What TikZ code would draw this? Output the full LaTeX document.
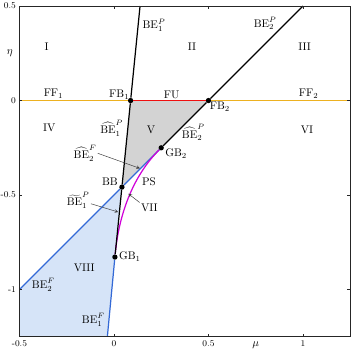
\documentclass[tikz,border=0pt]{standalone}
\usepackage{tikz}
\usepackage{xcolor}
\usetikzlibrary{backgrounds}
\definecolor{PhaseOrange}{HTML}{EDB120}
\definecolor{PhaseRed}{HTML}{F01010}
\definecolor{PhaseBlue}{HTML}{3369D6}
\definecolor{PhaseMagenta}{HTML}{D000D8}
\definecolor{PhaseGray}{HTML}{D3D3D3}
\definecolor{PhaseSky}{HTML}{D6E4F8}
\definecolor{AxisGray}{HTML}{262626}

\begin{document}
\begin{tikzpicture}[x=6cm, y=6cm,
    curve/.style={line width=1.1pt},
    dot/.style={circle, fill=black, inner sep=0pt, minimum size=4.8pt},
    lbl/.style={inner sep=1pt},
    tick/.style={font=\footnotesize, inner sep=1pt},
    axis/.style={AxisGray, line width=0.8pt},
    arrow/.style={->, >=stealth, black!75, line width=0.45pt}
  ]
    \useasboundingbox (-0.603,-1.341) rectangle (1.270,0.532);

    \coordinate (topP1) at (0.138,0.5);
    \coordinate (topP2) at (1,0.5);
    \coordinate (leftF) at (-0.5,0);
    \coordinate (rightF) at (1.25,0);
    \coordinate (startF2) at (-0.5,-1);
    \coordinate (endF1) at (-0.035,-1.25);
    \coordinate (tipV) at (0.1376,-0.359);
    \coordinate (tipT) at (0.0228,-0.59);
    \coordinate (tipVII) at (0.0757,-0.493);

    \node[dot] (fb1) at (0.088,0) {};
    \node[dot] (fb2) at (0.5,0) {};
    \node[dot] (gb2) at (0.25,-0.25) {};
    \node[dot] (bb) at (0.042,-0.458) {};
    \node[dot] (gb1) at (0.005,-0.828) {};

    \begin{scope}[on background layer]
      \fill[PhaseGray] (fb1.center) -- (fb2.center) -- (gb2.center) -- (bb.center) -- cycle;
      \fill[PhaseSky] (startF2) -- (bb.center) -- (gb1.center) -- (endF1) -- (-0.5,-1.25) -- cycle;
    \end{scope}

    \draw[curve, PhaseOrange] (leftF) -- (fb1) (fb2) -- (rightF);
    \draw[curve, PhaseRed] (fb1) -- (fb2);
    \draw[curve, PhaseBlue] (startF2) -- (bb) (bb) -- (gb2) (endF1) -- (gb1);
    \draw[curve, PhaseMagenta] (gb1) .. controls (0.0283,-0.5827) and (0.11,-0.39) .. (gb2);
    \draw[curve] (topP1) -- (fb1) (fb1) -- (bb) (bb) -- (gb1);
    \draw[curve] (topP2) -- (fb2) (fb2) -- (gb2);

    \draw[axis] (-0.5,-1.25) rectangle (1.25,0.5);
    \foreach \m in {-0.5,0,0.5,1} {
      \draw[axis] (\m,-1.25) -- ++(0,0.016);
      \draw[axis] (\m,0.5) -- ++(0,-0.016);
    }
    \foreach \e in {-1,-0.5,0,0.5} {
      \draw[axis] (-0.5,\e) -- ++(0.016,0);
      \draw[axis] (1.25,\e) -- ++(-0.016,0);
    }
    \foreach \m/\n in {-0.5/a,0/b,0.5/c,1/d}
      \node[tick, anchor=north] (xtick\n) at (\m,-1.262) {\m};
    \foreach \e/\n in {-1/a,-0.5/b,0/c,0.5/d}
      \node[tick, anchor=east] (ytick\n) at (-0.512,\e) {\e};
    \node (mulbl) at (0.75,-1.292) {$\mu$};
    \node (etalbl) at (-0.551,0.251) {$\eta$};

    \node[lbl] (regI) at (-0.356,0.283) {I};
    \node[lbl] (regII) at (0.413,0.285) {II};
    \node[lbl] (regIII) at (1.009,0.285) {III};
    \node[lbl] (regIV) at (-0.342,-0.147) {IV};
    \node[lbl] (regV) at (0.196,-0.156) {V};
    \node[lbl] (regVI) at (1.021,-0.156) {VI};
    \node[lbl] (regVII) at (0.187,-0.567) {VII};
    \node[lbl] (regVIII) at (-0.157,-0.885) {VIII};
    \node[lbl] (regPS) at (0.185,-0.431) {PS};

    \node[lbl, anchor=south] (ff1) at (-0.32,0.004) {$\mathrm{FF}_1$};
    \node[lbl, anchor=south] (ff2) at (1.03,0.004) {$\mathrm{FF}_2$};
    \node[lbl, anchor=south] (fu) at (0.305,0.004) {FU};
    \node[lbl, anchor=south east] (fb1lbl) at (fb1.center) {$\mathrm{FB}_1$};
    \node[lbl, anchor=north west] (fb2lbl) at (fb2.center) {$\mathrm{FB}_2$};
    \node[lbl, anchor=north west] (gb2lbl) at (gb2.east) {$\mathrm{GB}_2$};
    \node[lbl, anchor=west] (gb1lbl) at (gb1.east) {$\mathrm{GB}_1$};
    \node[lbl, anchor=south east] (bblbl) at (bb.west) {BB};

    \node[lbl] (be1p) at (0.212,0.399) {$\mathrm{BE}_1^P$};
    \node[lbl] (be2p) at (0.80,0.408) {$\mathrm{BE}_2^P$};
    \node[lbl] (be1phat) at (-0.012,-0.147) {$\widehat{\mathrm{BE}}_1^P$};
    \node[lbl] (be2phat) at (0.42,-0.17) {$\widehat{\mathrm{BE}}_2^P$};
    \node[lbl] (be2fhat) at (-0.153,-0.279) {$\widehat{\mathrm{BE}}_2^F$};
    \node[lbl] (be1ptil) at (-0.189,-0.528) {$\widetilde{\mathrm{BE}}_1^P$};
    \node[lbl] (be2f) at (-0.374,-0.976) {$\mathrm{BE}_2^F$};
    \node[lbl] (be1f) at (-0.109,-1.161) {$\mathrm{BE}_1^F$};

    \draw[arrow] (be2fhat.east) -- (tipV);
    \draw[arrow] (be1ptil.-15) -- (tipT);
    \draw[arrow] (regVII.north west) -- (tipVII);
  \end{tikzpicture}
\end{document}
